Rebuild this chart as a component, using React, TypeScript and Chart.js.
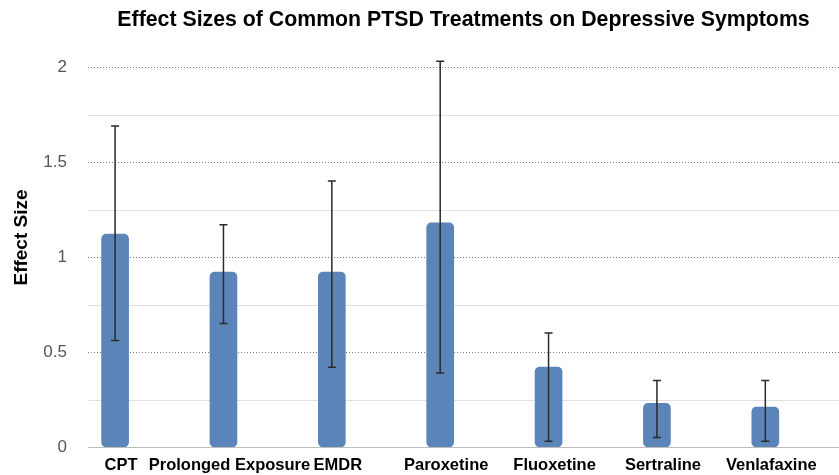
import React, { useEffect, useRef } from "react";
import { Chart, registerables } from "chart.js";

Chart.register(...registerables);

const categories = ["CPT", "Prolonged Exposure", "EMDR", "Paroxetine", "Fluoxetine", "Sertraline", "Venlafaxine"];
const effectSizes = [1.12, 0.92, 0.92, 1.18, 0.42, 0.23, 0.21];
const errorLow = [0.56, 0.65, 0.42, 0.39, 0.03, 0.05, 0.03];
const errorHigh = [1.69, 1.17, 1.4, 2.03, 0.6, 0.35, 0.35];
const yTicks = [0, 0.25, 0.5, 0.75, 1, 1.25, 1.5, 1.75, 2];
const titleText = "Effect Sizes of Common PTSD Treatments on Depressive Symptoms";
const yTitleText = "Effect Size";

const FONT = "'Liberation Sans', Arial, Helvetica, sans-serif";

export default function App() {
  const ref = useRef<HTMLCanvasElement | null>(null);

  useEffect(() => {
    if (!ref.current) return;

    const gridPlugin = {
      id: "customGrid",
      beforeDatasetsDraw(chart: any) {
        const { ctx, chartArea } = chart;
        const y = chart.scales.y;
        ctx.save();
        yTicks.forEach((t) => {
          const py = Math.round(y.getPixelForValue(t)) + 0.5;
          ctx.beginPath();
          if (t === 0) {
            ctx.strokeStyle = "#bdbdbd";
            ctx.lineWidth = 1;
            ctx.setLineDash([]);
          } else if (Math.abs((t * 2) % 1) < 1e-9) {
            ctx.strokeStyle = "#777777";
            ctx.lineWidth = 1;
            ctx.setLineDash([1, 2]);
          } else {
            ctx.strokeStyle = "#e0e0e0";
            ctx.lineWidth = 1;
            ctx.setLineDash([]);
          }
          ctx.moveTo(chartArea.left, py);
          ctx.lineTo(chartArea.right, py);
          ctx.stroke();
        });
        ctx.restore();
      },
    };

    const errorPlugin = {
      id: "errorBars",
      afterDatasetsDraw(chart: any) {
        const { ctx } = chart;
        const y = chart.scales.y;
        const meta = chart.getDatasetMeta(0);
        ctx.save();
        ctx.strokeStyle = "#2a2a2a";
        ctx.lineWidth = 1.5;
        meta.data.forEach((bar: any, i: number) => {
          const x = bar.x;
          const top = y.getPixelForValue(errorHigh[i]);
          const bot = y.getPixelForValue(errorLow[i]);
          ctx.beginPath();
          ctx.moveTo(x, top);
          ctx.lineTo(x, bot);
          ctx.moveTo(x - 4, top);
          ctx.lineTo(x + 4, top);
          ctx.moveTo(x - 4, bot);
          ctx.lineTo(x + 4, bot);
          ctx.stroke();
        });
        ctx.restore();
      },
    };

    const textPlugin = {
      id: "texts",
      afterDraw(chart: any) {
        const { ctx, chartArea } = chart;
        ctx.save();
        ctx.fillStyle = "#000";
        ctx.textAlign = "center";
        ctx.textBaseline = "middle";
        ctx.font = `bold 21.3px ${FONT}`;
        ctx.fillText(titleText, (chartArea.left + chartArea.right) / 2, 20);
        ctx.translate(22, (chartArea.top + chartArea.bottom) / 2 - 10);
        ctx.rotate(-Math.PI / 2);
        ctx.font = `bold 19px ${FONT}`;
        ctx.fillText(yTitleText, 0, 0);
        ctx.restore();
      },
    };

    const chart = new Chart(ref.current, {
      type: "bar",
      data: {
        datasets: [
          {
            data: effectSizes.map((v, i) => ({ x: i, y: v })),
            backgroundColor: "#5b84b9",
            borderRadius: 5,
            borderSkipped: false,
            barThickness: 27,
          },
        ],
      },
      options: {
        responsive: false,
        maintainAspectRatio: false,
        animation: false,
        devicePixelRatio: 1,
        layout: { padding: { top: 48, right: 0, left: 0, bottom: 0 } },
        plugins: {
          legend: { display: false },
          tooltip: { enabled: false },
          title: { display: false },
        },
        scales: {
          x: {
            type: "linear",
            offset: false,
            min: -0.25,
            max: 6.68,
            afterBuildTicks: (s: any) => {
              s.ticks = categories.map((_, i) => ({ value: i }));
            },
            afterFit: (s: any) => {
              s.height = 28;
            },
            grid: { display: false, drawTicks: false, offset: false },
            border: { display: false },
            ticks: {
              autoSkip: false,
              maxRotation: 0,
              padding: 9,
              labelOffset: 6,
              color: "#000",
              font: { family: FONT, size: 16.5, weight: "bold" },
              callback: (v: any) => categories[v as number] ?? "",
            },
          },
          y: {
            min: 0,
            max: 2.1,
            afterBuildTicks: (s: any) => {
              s.ticks = yTicks.map((v) => ({ value: v }));
            },
            afterFit: (s: any) => {
              s.width = 88;
              s.paddingTop = 0;
              s.paddingBottom = 0;
            },
            grid: { display: false, drawTicks: false },
            border: { display: false },
            ticks: {
              padding: 21,
              color: "#555",
              font: { family: FONT, size: 17 },
              callback: (v: any) => (Math.abs((v * 2) % 1) < 1e-9 ? String(v) : ""),
            },
          },
        },
      },
      plugins: [gridPlugin, errorPlugin, textPlugin],
    } as any);

    return () => chart.destroy();
  }, []);

  return (
    <div style={{ position: "fixed", left: 0, top: 0, width: 839, height: 475, background: "#fff" }}>
      <canvas ref={ref} width={839} height={475} style={{ display: "block" }} />
    </div>
  );
}
